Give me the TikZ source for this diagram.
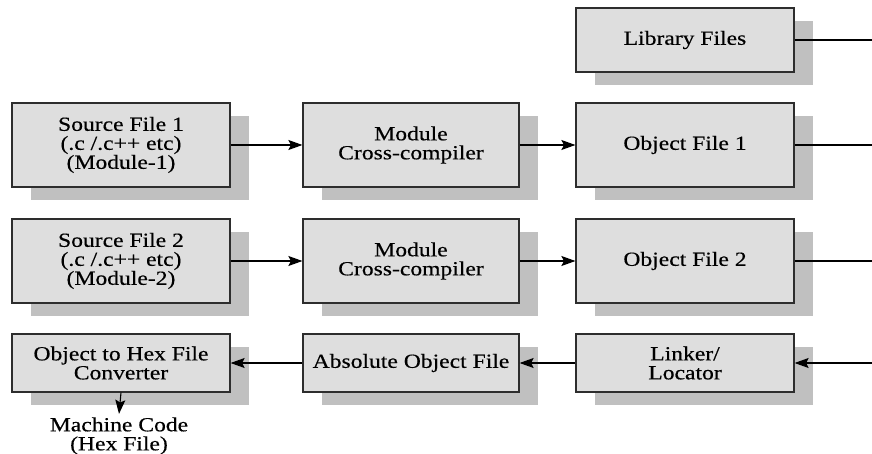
\documentclass[tikz,border=0pt]{standalone}
\usepackage{fontspec}
\setmainfont[FakeStretch=1.18,FakeBold=0.4]{Liberation Serif}
\usepackage{tikz}
\usetikzlibrary{arrows.meta}
\usetikzlibrary{shadows}

\definecolor{boxfill}{RGB}{222,222,222}
\definecolor{boxshade}{RGB}{192,192,192}
\definecolor{boxline}{RGB}{45,45,45}

\begin{document}
\begin{tikzpicture}[x=1pt,y=-1pt,
    block/.style={rectangle,draw=boxline,line width=1.2pt,fill=boxfill,
        align=center,inner sep=0pt,minimum width=218pt,
        general shadow={fill=boxshade,shadow xshift=19pt,shadow yshift=-13pt}},
    tall/.style={block,minimum height=84pt},
    flat/.style={block,minimum height=58pt},
    arr/.style={line width=1.1pt,-{Stealth[length=14pt,width=10pt,inset=2.5pt]}},
    font=\fontsize{20}{19}\selectfont]
            \useasboundingbox (0,0) rectangle (872,454);

            % Place the library and object files
            \node[block,minimum height=64pt] (lib) at (685,40) {Library Files};
            \node[tall] (obj1) at (685,145) {Object File 1};
            \node[tall] (obj2) at (685,261) {Object File 2};

            % Place the sources and the compilers
            \node[tall] (src1) at (121,145) {Source File 1\\(.c /.c++ etc)\\(Module-1)};
            \node[tall,minimum width=216pt] (mod1) at (411,145) {Module\\Cross-compiler};
            \node[tall] (src2) at (121,261) {Source File 2\\(.c /.c++ etc)\\(Module-2)};
            \node[tall,minimum width=216pt] (mod2) at (411,261) {Module\\Cross-compiler};

            % Place the bottom row
            \node[flat] (hex) at (121,363) {Object to Hex File\\Converter};
            \node[flat,minimum width=216pt] (abs) at (411,363) {Absolute Object File};
            \node[flat] (link) at (685,363) {Linker/\\Locator};
            \node[align=center] (code) at (119,436) {Machine Code\\(Hex File)};

            % Free ends on the right
            \coordinate (e0) at (872,40);
            \coordinate (e1) at (872,145);
            \coordinate (e2) at (872,261);
            \coordinate (e3) at (872,363);

            % The lines!
            \draw[arr] (src1) -- (mod1);
            \draw[arr] (mod1) -- (obj1);
            \draw[arr] (src2) -- (mod2);
            \draw[arr] (mod2) -- (obj2);
            \draw[line width=1.1pt] (lib) -- (e0);
            \draw[line width=1.1pt] (obj1) -- (e1);
            \draw[line width=1.1pt] (obj2) -- (e2);
            \draw[arr] (e3) -- (link);
            \draw[arr] (link) -- (abs);
            \draw[arr] (abs) -- (hex);
            \draw[arr] (hex.south) -- (code.north);
        \end{tikzpicture}
\end{document}
